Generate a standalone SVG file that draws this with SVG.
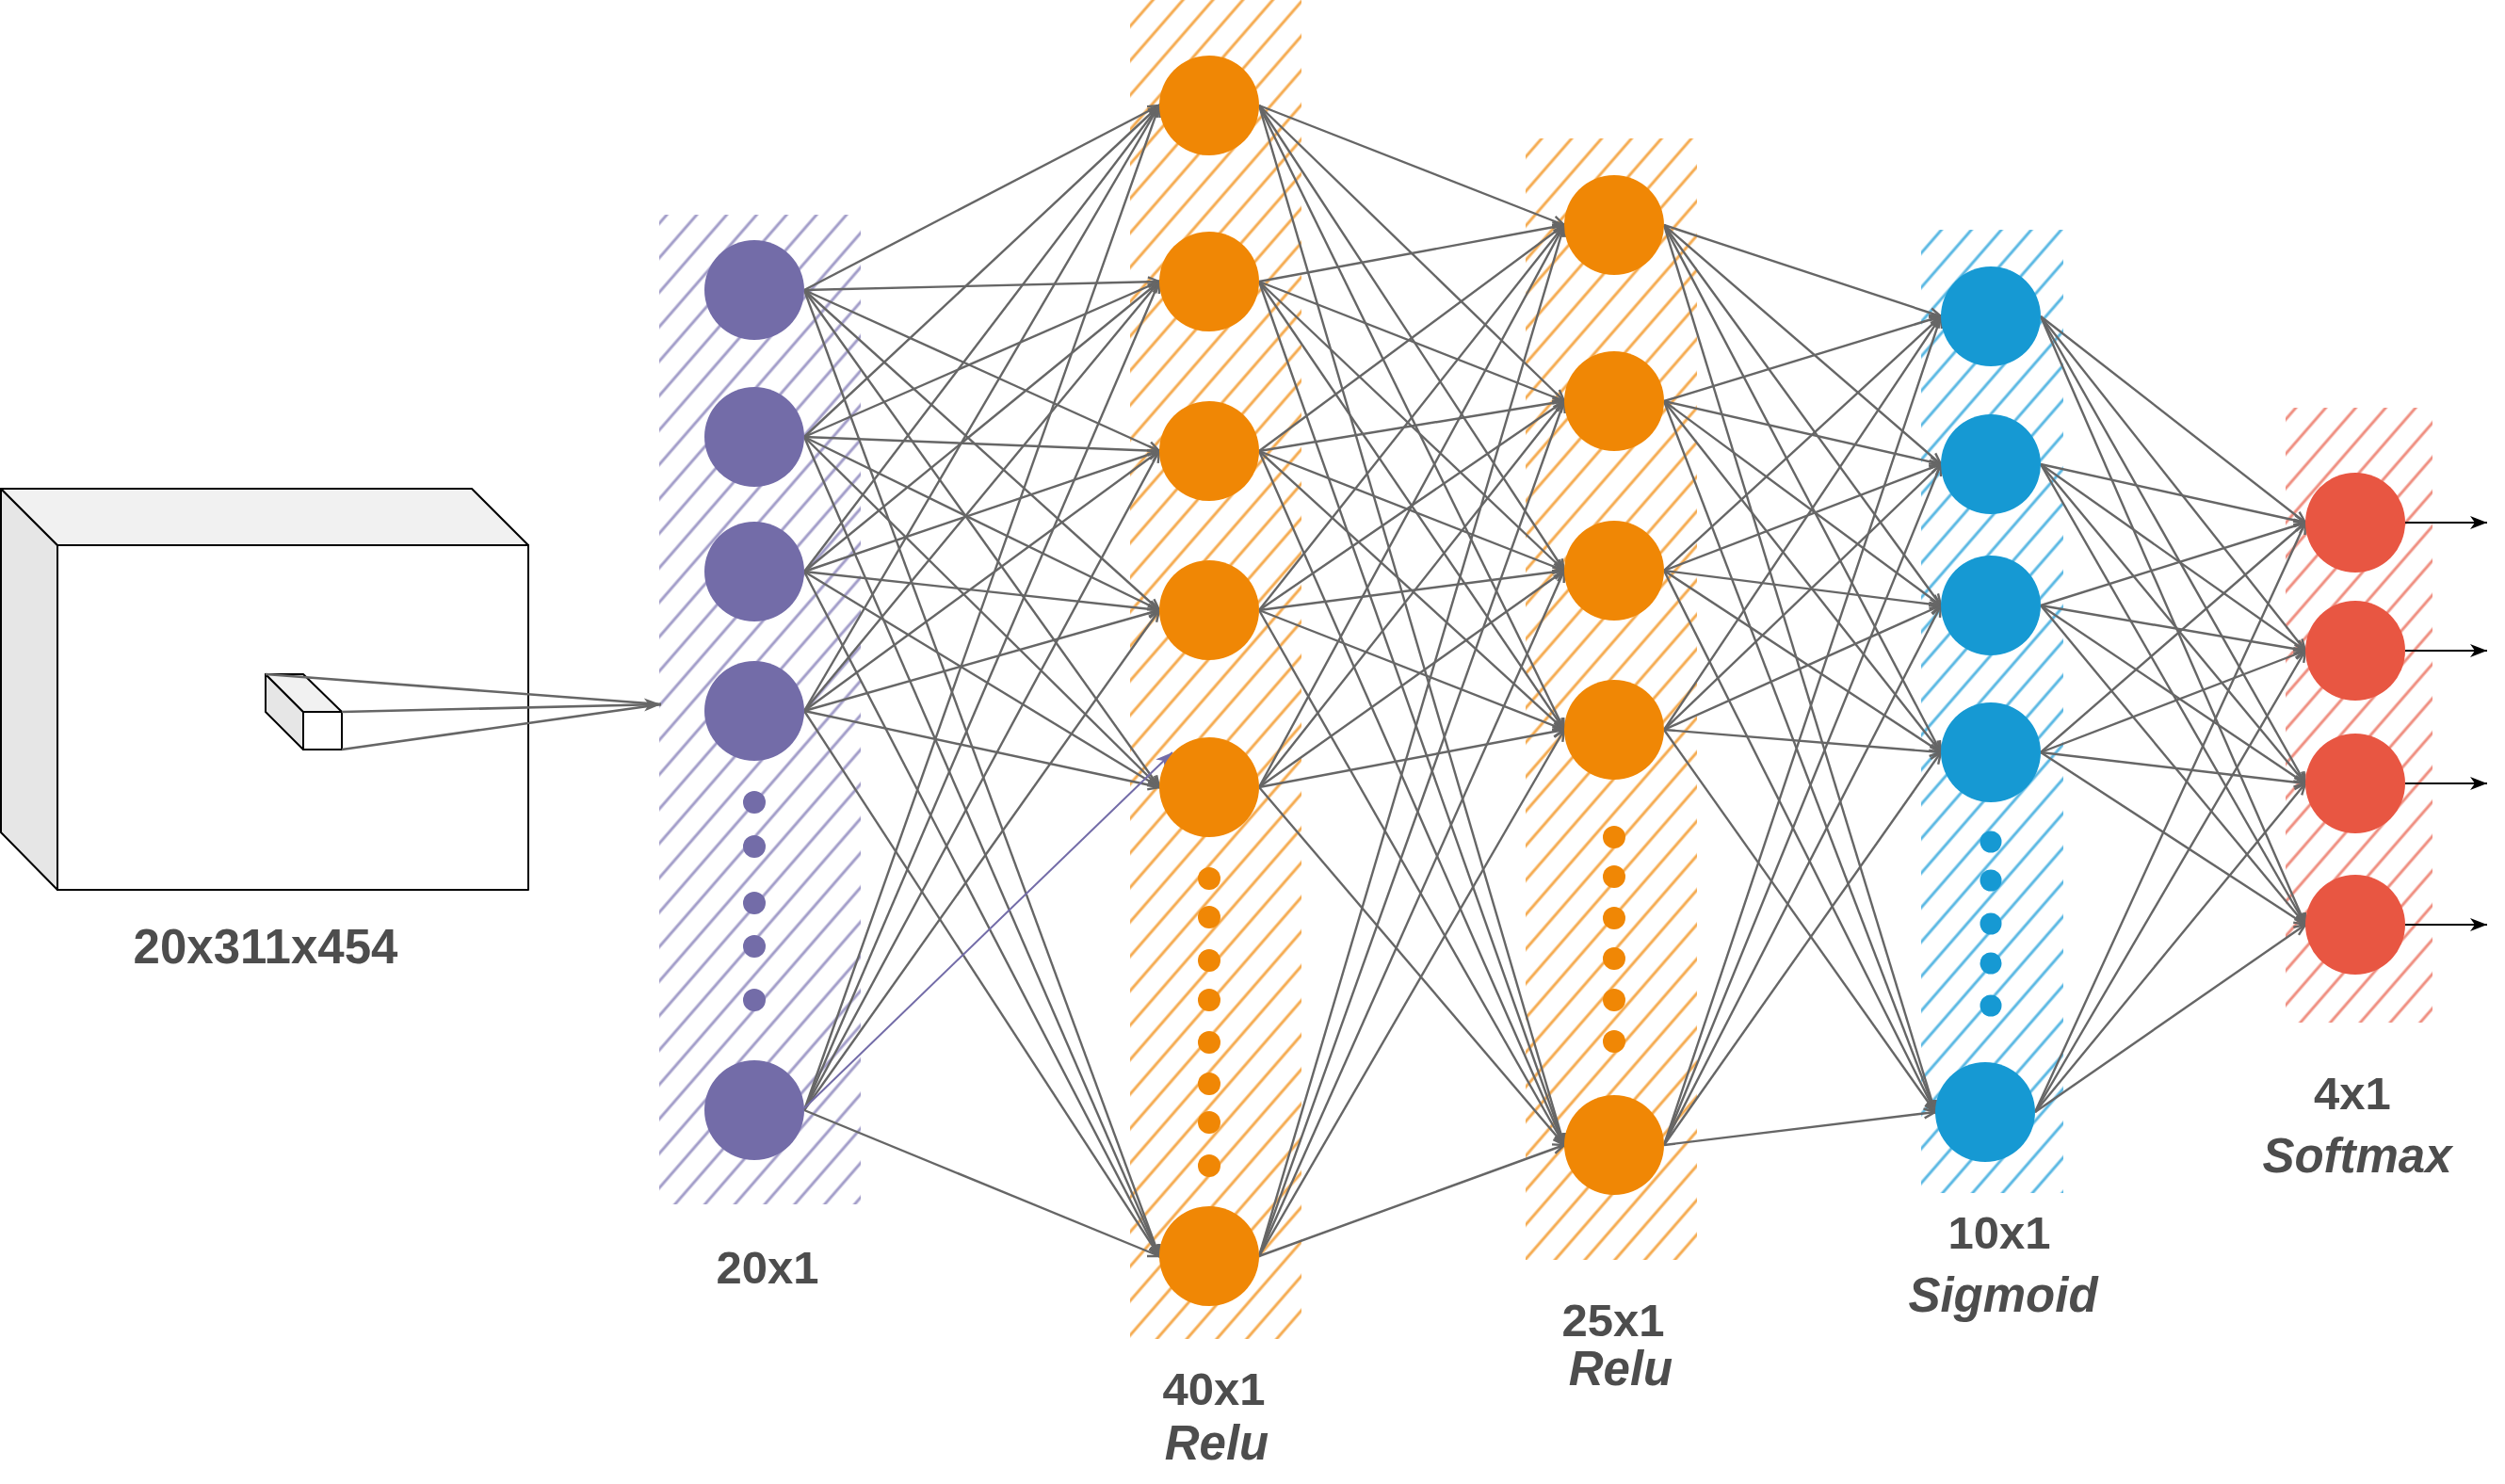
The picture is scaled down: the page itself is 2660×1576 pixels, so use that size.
<svg xmlns="http://www.w3.org/2000/svg" width="2660" height="1576" viewBox="0 0 2660 1576">
<style>
.e{stroke:#666666;stroke-width:2.4;fill:none;marker-end:url(#oa)}
.o{stroke:#000000;stroke-width:2;fill:none;marker-end:url(#ca)}
.t{font-family:"Liberation Sans",Arial,Helvetica,sans-serif;font-weight:bold;fill:#4D4D4D;text-anchor:middle}
.n{font-size:49px}
.i{font-size:51px;font-style:italic}
.pu{fill:#736CA8}
.or{fill:#F08705}
.bl{fill:#1699D3}
.rd{fill:#E85642}
.box{stroke:#000000;stroke-width:2;stroke-linejoin:round}
</style>
<defs>
<pattern id="hp" patternUnits="userSpaceOnUse" width="24" height="24" patternTransform="rotate(-49)"><line x1="0" y1="12" x2="24" y2="12" stroke="#A29DC9" stroke-width="3"/></pattern>
<pattern id="ho" patternUnits="userSpaceOnUse" width="24" height="24" patternTransform="rotate(-49)"><line x1="0" y1="12" x2="24" y2="12" stroke="#F5AB50" stroke-width="3"/></pattern>
<pattern id="hb" patternUnits="userSpaceOnUse" width="24" height="24" patternTransform="rotate(-49)"><line x1="0" y1="12" x2="24" y2="12" stroke="#5AB8E3" stroke-width="3"/></pattern>
<pattern id="hr" patternUnits="userSpaceOnUse" width="24" height="24" patternTransform="rotate(-49)"><line x1="0" y1="12" x2="24" y2="12" stroke="#EF8E80" stroke-width="3"/></pattern>
<marker id="oa" markerUnits="userSpaceOnUse" viewBox="0 0 14 12" markerWidth="14" markerHeight="12" refX="13" refY="6" orient="auto" overflow="visible"><path d="M1,1 L13,6 L1,11" fill="none" stroke="#666666" stroke-width="2.4"/></marker>
<marker id="ca" markerUnits="userSpaceOnUse" viewBox="0 0 18 14" markerWidth="18" markerHeight="14" refX="18" refY="7" orient="auto" overflow="visible"><path d="M0,0 L18,7 L0,14 L5,7 Z" fill="#000000"/></marker>
<marker id="pa" markerUnits="userSpaceOnUse" viewBox="0 0 18 14" markerWidth="18" markerHeight="14" refX="18" refY="7" orient="auto" overflow="visible"><path d="M0,0 L18,7 L0,14 L5,7 Z" fill="#736CA8"/></marker>
<marker id="ga" markerUnits="userSpaceOnUse" viewBox="0 0 18 14" markerWidth="18" markerHeight="14" refX="18" refY="7" orient="auto" overflow="visible"><path d="M0,0 L18,7 L0,14 L5,7 Z" fill="#666666"/></marker>
</defs>

<g id="input-volume">
<polygon class="box" points="1,519 61,579 61,945 1,884" fill="#E6E6E6"/>
<polygon class="box" points="1,519 501,519 561,579 61,579" fill="#F1F1F1"/>
<rect class="box" x="61" y="579" width="500" height="366" fill="#FFFFFF"/>
<polygon class="box" points="282,716 322,756 322,796 282,756" fill="#E6E6E6"/>
<polygon class="box" points="282,716 322,716 363,756 322,756" fill="#F1F1F1"/>
<rect class="box" x="322" y="756" width="41" height="40" fill="#FFFFFF"/>
<text class="t" x="282" y="1023" font-size="51">20x311x454</text>
</g>

<g id="hatches">
<rect x="700" y="228" width="214" height="1051" fill="url(#hp)"/>
<rect x="1200" y="0" width="182" height="1422" fill="url(#ho)"/>
<rect x="1620" y="147" width="182" height="1191" fill="url(#ho)"/>
<rect x="2040" y="244" width="151" height="1023" fill="url(#hb)"/>
<rect x="2427" y="433" width="156" height="653" fill="url(#hr)"/>
</g>

<g id="connectors">
<g id="input-lines" stroke="#666666" stroke-width="2.6" fill="none">
<line x1="282" y1="716" x2="702" y2="748"/>
<line x1="363" y1="756" x2="702" y2="748" marker-end="url(#ga)"/>
<line x1="363" y1="796" x2="702" y2="748"/>
</g>
<g id="l1-l2">
<line class="e" x1="854" y1="308" x2="1231" y2="112"/>
<line class="e" x1="854" y1="308" x2="1231" y2="299"/>
<line class="e" x1="854" y1="308" x2="1231" y2="479"/>
<line class="e" x1="854" y1="308" x2="1231" y2="648"/>
<line class="e" x1="854" y1="308" x2="1231" y2="836"/>
<line class="e" x1="854" y1="308" x2="1231" y2="1334"/>
<line class="e" x1="854" y1="464" x2="1231" y2="112"/>
<line class="e" x1="854" y1="464" x2="1231" y2="299"/>
<line class="e" x1="854" y1="464" x2="1231" y2="479"/>
<line class="e" x1="854" y1="464" x2="1231" y2="648"/>
<line class="e" x1="854" y1="464" x2="1231" y2="836"/>
<line class="e" x1="854" y1="464" x2="1231" y2="1334"/>
<line class="e" x1="854" y1="607" x2="1231" y2="112"/>
<line class="e" x1="854" y1="607" x2="1231" y2="299"/>
<line class="e" x1="854" y1="607" x2="1231" y2="479"/>
<line class="e" x1="854" y1="607" x2="1231" y2="648"/>
<line class="e" x1="854" y1="607" x2="1231" y2="836"/>
<line class="e" x1="854" y1="607" x2="1231" y2="1334"/>
<line class="e" x1="854" y1="755" x2="1231" y2="112"/>
<line class="e" x1="854" y1="755" x2="1231" y2="299"/>
<line class="e" x1="854" y1="755" x2="1231" y2="479"/>
<line class="e" x1="854" y1="755" x2="1231" y2="648"/>
<line class="e" x1="854" y1="755" x2="1231" y2="836"/>
<line class="e" x1="854" y1="755" x2="1231" y2="1334"/>
<line class="e" x1="854" y1="1179" x2="1231" y2="112"/>
<line class="e" x1="854" y1="1179" x2="1231" y2="299"/>
<line class="e" x1="854" y1="1179" x2="1231" y2="479"/>
<line class="e" x1="854" y1="1179" x2="1231" y2="648"/>
<line class="e" x1="854" y1="1179" x2="1231" y2="1334"/>
<line x1="854" y1="1177" x2="1245" y2="799" stroke="#736CA8" stroke-width="2" fill="none" marker-end="url(#pa)"/>
</g>
<g id="l2-l3">
<line class="e" x1="1337" y1="112" x2="1661" y2="239"/>
<line class="e" x1="1337" y1="112" x2="1661" y2="426"/>
<line class="e" x1="1337" y1="112" x2="1661" y2="606"/>
<line class="e" x1="1337" y1="112" x2="1661" y2="775"/>
<line class="e" x1="1337" y1="112" x2="1661" y2="1216"/>
<line class="e" x1="1337" y1="299" x2="1661" y2="239"/>
<line class="e" x1="1337" y1="299" x2="1661" y2="426"/>
<line class="e" x1="1337" y1="299" x2="1661" y2="606"/>
<line class="e" x1="1337" y1="299" x2="1661" y2="775"/>
<line class="e" x1="1337" y1="299" x2="1661" y2="1216"/>
<line class="e" x1="1337" y1="479" x2="1661" y2="239"/>
<line class="e" x1="1337" y1="479" x2="1661" y2="426"/>
<line class="e" x1="1337" y1="479" x2="1661" y2="606"/>
<line class="e" x1="1337" y1="479" x2="1661" y2="775"/>
<line class="e" x1="1337" y1="479" x2="1661" y2="1216"/>
<line class="e" x1="1337" y1="648" x2="1661" y2="239"/>
<line class="e" x1="1337" y1="648" x2="1661" y2="426"/>
<line class="e" x1="1337" y1="648" x2="1661" y2="606"/>
<line class="e" x1="1337" y1="648" x2="1661" y2="775"/>
<line class="e" x1="1337" y1="648" x2="1661" y2="1216"/>
<line class="e" x1="1337" y1="836" x2="1661" y2="239"/>
<line class="e" x1="1337" y1="836" x2="1661" y2="426"/>
<line class="e" x1="1337" y1="836" x2="1661" y2="606"/>
<line class="e" x1="1337" y1="836" x2="1661" y2="775"/>
<line class="e" x1="1337" y1="836" x2="1661" y2="1216"/>
<line class="e" x1="1337" y1="1334" x2="1661" y2="239"/>
<line class="e" x1="1337" y1="1334" x2="1661" y2="426"/>
<line class="e" x1="1337" y1="1334" x2="1661" y2="606"/>
<line class="e" x1="1337" y1="1334" x2="1661" y2="775"/>
<line class="e" x1="1337" y1="1334" x2="1661" y2="1216"/>
</g>
<g id="l3-l4">
<line class="e" x1="1767" y1="239" x2="2061" y2="336"/>
<line class="e" x1="1767" y1="239" x2="2061" y2="493"/>
<line class="e" x1="1767" y1="239" x2="2061" y2="643"/>
<line class="e" x1="1767" y1="239" x2="2061" y2="799"/>
<line class="e" x1="1767" y1="239" x2="2055" y2="1181"/>
<line class="e" x1="1767" y1="426" x2="2061" y2="336"/>
<line class="e" x1="1767" y1="426" x2="2061" y2="493"/>
<line class="e" x1="1767" y1="426" x2="2061" y2="643"/>
<line class="e" x1="1767" y1="426" x2="2061" y2="799"/>
<line class="e" x1="1767" y1="426" x2="2055" y2="1181"/>
<line class="e" x1="1767" y1="606" x2="2061" y2="336"/>
<line class="e" x1="1767" y1="606" x2="2061" y2="493"/>
<line class="e" x1="1767" y1="606" x2="2061" y2="643"/>
<line class="e" x1="1767" y1="606" x2="2061" y2="799"/>
<line class="e" x1="1767" y1="606" x2="2055" y2="1181"/>
<line class="e" x1="1767" y1="775" x2="2061" y2="336"/>
<line class="e" x1="1767" y1="775" x2="2061" y2="493"/>
<line class="e" x1="1767" y1="775" x2="2061" y2="643"/>
<line class="e" x1="1767" y1="775" x2="2061" y2="799"/>
<line class="e" x1="1767" y1="775" x2="2055" y2="1181"/>
<line class="e" x1="1767" y1="1216" x2="2061" y2="336"/>
<line class="e" x1="1767" y1="1216" x2="2061" y2="493"/>
<line class="e" x1="1767" y1="1216" x2="2061" y2="643"/>
<line class="e" x1="1767" y1="1216" x2="2061" y2="799"/>
<line class="e" x1="1767" y1="1216" x2="2055" y2="1181"/>
</g>
<g id="l4-l5">
<line class="e" x1="2167" y1="336" x2="2448" y2="555"/>
<line class="e" x1="2167" y1="336" x2="2448" y2="691"/>
<line class="e" x1="2167" y1="336" x2="2448" y2="832"/>
<line class="e" x1="2167" y1="336" x2="2448" y2="982"/>
<line class="e" x1="2167" y1="493" x2="2448" y2="555"/>
<line class="e" x1="2167" y1="493" x2="2448" y2="691"/>
<line class="e" x1="2167" y1="493" x2="2448" y2="832"/>
<line class="e" x1="2167" y1="493" x2="2448" y2="982"/>
<line class="e" x1="2167" y1="643" x2="2448" y2="555"/>
<line class="e" x1="2167" y1="643" x2="2448" y2="691"/>
<line class="e" x1="2167" y1="643" x2="2448" y2="832"/>
<line class="e" x1="2167" y1="643" x2="2448" y2="982"/>
<line class="e" x1="2167" y1="799" x2="2448" y2="555"/>
<line class="e" x1="2167" y1="799" x2="2448" y2="691"/>
<line class="e" x1="2167" y1="799" x2="2448" y2="832"/>
<line class="e" x1="2167" y1="799" x2="2448" y2="982"/>
<line class="e" x1="2161" y1="1181" x2="2448" y2="555"/>
<line class="e" x1="2161" y1="1181" x2="2448" y2="691"/>
<line class="e" x1="2161" y1="1181" x2="2448" y2="832"/>
<line class="e" x1="2161" y1="1181" x2="2448" y2="982"/>
</g>
<g id="outputs">
<line class="o" x1="2554" y1="555" x2="2641" y2="555"/>
<line class="o" x1="2554" y1="691" x2="2641" y2="691"/>
<line class="o" x1="2554" y1="832" x2="2641" y2="832"/>
<line class="o" x1="2554" y1="982" x2="2641" y2="982"/>
</g>
</g>

<g id="layer1">
<circle class="pu" cx="801" cy="308" r="53"/>
<circle class="pu" cx="801" cy="464" r="53"/>
<circle class="pu" cx="801" cy="607" r="53"/>
<circle class="pu" cx="801" cy="755" r="53"/>
<circle class="pu" cx="801" cy="852" r="12"/>
<circle class="pu" cx="801" cy="899" r="12"/>
<circle class="pu" cx="801" cy="959" r="12"/>
<circle class="pu" cx="801" cy="1005" r="12"/>
<circle class="pu" cx="801" cy="1062" r="12"/>
<circle class="pu" cx="801" cy="1179" r="53"/>
<text class="t n" x="815" y="1363">20x1</text>
</g>

<g id="layer2">
<circle class="or" cx="1284" cy="112" r="53"/>
<circle class="or" cx="1284" cy="299" r="53"/>
<circle class="or" cx="1284" cy="479" r="53"/>
<circle class="or" cx="1284" cy="648" r="53"/>
<circle class="or" cx="1284" cy="836" r="53"/>
<circle class="or" cx="1284" cy="933" r="12"/>
<circle class="or" cx="1284" cy="974" r="12"/>
<circle class="or" cx="1284" cy="1020" r="12"/>
<circle class="or" cx="1284" cy="1062" r="12"/>
<circle class="or" cx="1284" cy="1107" r="12"/>
<circle class="or" cx="1284" cy="1151" r="12"/>
<circle class="or" cx="1284" cy="1192" r="12"/>
<circle class="or" cx="1284" cy="1238" r="12"/>
<circle class="or" cx="1284" cy="1334" r="53"/>
<text class="t n" x="1289" y="1492">40x1</text>
<text class="t i" x="1292" y="1550">Relu</text>
</g>

<g id="layer3">
<circle class="or" cx="1714" cy="239" r="53"/>
<circle class="or" cx="1714" cy="426" r="53"/>
<circle class="or" cx="1714" cy="606" r="53"/>
<circle class="or" cx="1714" cy="775" r="53"/>
<circle class="or" cx="1714" cy="889" r="12"/>
<circle class="or" cx="1714" cy="931" r="12"/>
<circle class="or" cx="1714" cy="975" r="12"/>
<circle class="or" cx="1714" cy="1018" r="12"/>
<circle class="or" cx="1714" cy="1062" r="12"/>
<circle class="or" cx="1714" cy="1106" r="12"/>
<circle class="or" cx="1714" cy="1216" r="53"/>
<text class="t n" x="1713" y="1419">25x1</text>
<text class="t i" x="1721" y="1471">Relu</text>
</g>

<g id="layer4">
<circle class="bl" cx="2114" cy="336" r="53"/>
<circle class="bl" cx="2114" cy="493" r="53"/>
<circle class="bl" cx="2114" cy="643" r="53"/>
<circle class="bl" cx="2114" cy="799" r="53"/>
<circle class="bl" cx="2114" cy="894" r="11.5"/>
<circle class="bl" cx="2114" cy="935" r="11.5"/>
<circle class="bl" cx="2114" cy="981" r="11.5"/>
<circle class="bl" cx="2114" cy="1023" r="11.5"/>
<circle class="bl" cx="2114" cy="1068" r="11.5"/>
<circle class="bl" cx="2108" cy="1181" r="53"/>
<text class="t n" x="2123" y="1326">10x1</text>
<text class="t i" x="2127" y="1393">Sigmoid</text>
</g>

<g id="layer5">
<circle class="rd" cx="2501" cy="555" r="53"/>
<circle class="rd" cx="2501" cy="691" r="53"/>
<circle class="rd" cx="2501" cy="832" r="53"/>
<circle class="rd" cx="2501" cy="982" r="53"/>
<text class="t n" x="2498" y="1178">4x1</text>
<text class="t i" x="2503" y="1245">Softmax</text>
</g>
</svg>
